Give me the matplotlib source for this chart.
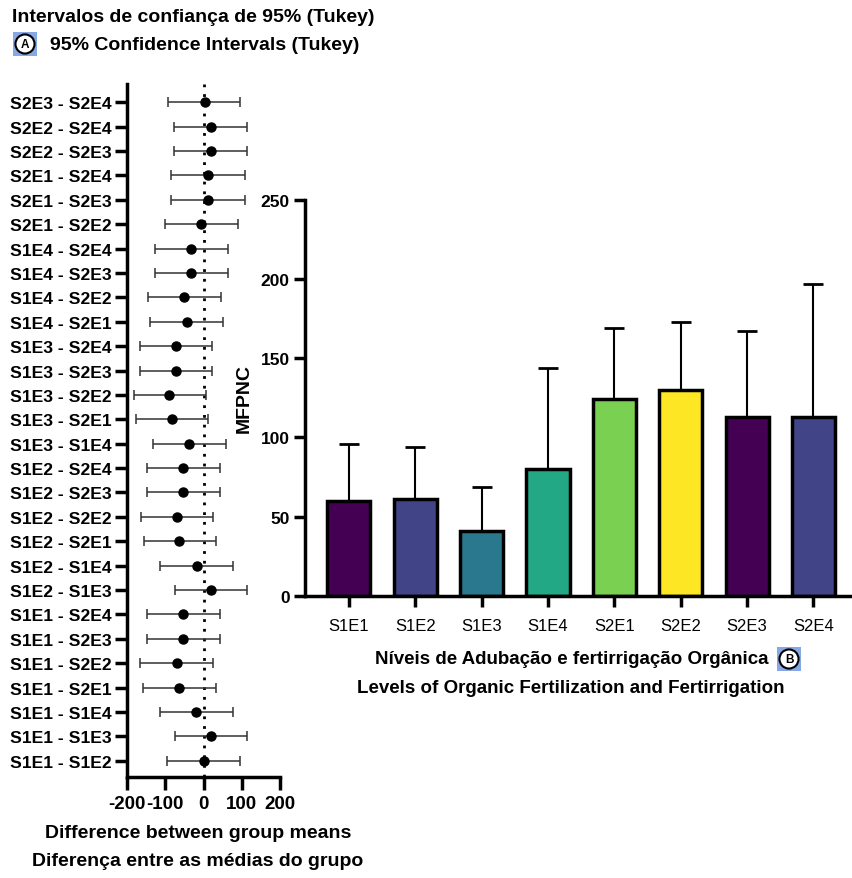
import matplotlib
matplotlib.use("Agg")
import matplotlib.pyplot as plt
from matplotlib.patches import Rectangle

plt.rcParams['font.family'] = ['Liberation Sans', 'DejaVu Sans']

# Tukey comparisons (bottom to top)
comparisons = ["S1E1 - S1E2", "S1E1 - S1E3", "S1E1 - S1E4", "S1E1 - S2E1",
               "S1E1 - S2E2", "S1E1 - S2E3", "S1E1 - S2E4", "S1E2 - S1E3",
               "S1E2 - S1E4", "S1E2 - S2E1", "S1E2 - S2E2", "S1E2 - S2E3",
               "S1E2 - S2E4", "S1E3 - S1E4", "S1E3 - S2E1", "S1E3 - S2E2",
               "S1E3 - S2E3", "S1E3 - S2E4", "S1E4 - S2E1", "S1E4 - S2E2",
               "S1E4 - S2E3", "S1E4 - S2E4", "S2E1 - S2E2", "S2E1 - S2E3",
               "S2E1 - S2E4", "S2E2 - S2E3", "S2E2 - S2E4", "S2E3 - S2E4"]
diff = [0, 19, -19, -64, -70, -53, -53, 20,
        -18, -63, -69, -53, -53, -37, -83, -89,
        -71, -71, -44, -50, -33, -32, -6, 12,
        12, 19, 19, 3]
lower = [-95, -75, -114, -159, -165, -147, -147, -75,
         -113, -156, -164, -147, -147, -133, -177, -183,
         -166, -166, -139, -146, -127, -127, -101, -84,
         -84, -78, -78, -94]
upper = [95, 115, 76, 32, 25, 42, 42, 115,
         77, 33, 26, 43, 43, 59, 13, 7,
         22, 22, 52, 46, 63, 63, 90, 108,
         108, 114, 114, 96]

# Bar chart
groups = ["S1E1", "S1E2", "S1E3", "S1E4", "S2E1", "S2E2", "S2E3", "S2E4"]
means = [60, 61, 41, 80, 124, 130, 113, 113]
sd = [36, 33, 28, 64, 45, 43, 54, 84]
colors = ["#440154", "#414487", "#2a788e", "#22a884",
          "#7ad151", "#fde725", "#440154", "#414487"]

fig = plt.figure(figsize=(8.52, 8.79), dpi=100)

# ---- panel A: confidence intervals
ax1 = fig.add_axes([127 / 852, 1 - 778 / 879, 153 / 852, 693 / 879])
ypos = list(range(len(comparisons)))
xerr = [[d - lo for d, lo in zip(diff, lower)], [hi - d for d, hi in zip(diff, upper)]]
ax1.axvline(0, color="black", ls=(0, (1, 2.5)), lw=2, zorder=1)
ax1.errorbar(diff, ypos, xerr=xerr, fmt="o", color="black", ms=6.5,
             ecolor="#333333", elinewidth=1.1, capsize=3.5, capthick=1.1, zorder=3)
ax1.set_xlim(-200, 200)
ax1.set_ylim(-0.67, len(comparisons) - 0.25)
ax1.set_xticks([-200, -100, 0, 100, 200])
ax1.set_xticklabels(["-200", "-100", "0", "100", "200"], fontsize=13.5, fontweight="bold")
ax1.set_yticks(ypos)
ax1.set_yticklabels(comparisons, fontsize=12.6, fontweight="bold")
for s in ["top", "right"]:
    ax1.spines[s].set_visible(False)
for s in ["left", "bottom"]:
    ax1.spines[s].set_linewidth(2.5)
ax1.tick_params(axis="x", length=9, width=2.5, pad=4)
ax1.tick_params(axis="y", length=9, width=2.5, pad=2)

# ---- panel B: bar chart
ax2 = fig.add_axes([305 / 852, 1 - 597 / 879, 547 / 852, 396.3 / 879])
x = list(range(len(groups)))
ax2.bar(x, means, width=0.65, color=colors, edgecolor="black", linewidth=2.5, zorder=2)
ax2.errorbar(x, means, yerr=[[0] * len(sd), sd], fmt="none", ecolor="black",
             elinewidth=1.5, capsize=7.5, capthick=2, zorder=1)
ax2.set_xlim(-0.66, 7.58)
ax2.set_ylim(0, 250)
ax2.set_yticks([0, 50, 100, 150, 200, 250])
ax2.set_yticklabels(["0", "50", "100", "150", "200", "250"], fontsize=12.5, fontweight="bold")
ax2.set_xticks(x)
ax2.set_xticklabels(groups, fontsize=12)
for s in ["top", "right"]:
    ax2.spines[s].set_visible(False)
for s in ["left", "bottom"]:
    ax2.spines[s].set_linewidth(2.5)
ax2.tick_params(axis="x", length=8, width=2.5, pad=8)
ax2.tick_params(axis="y", length=8, width=2.5, pad=3)
ax2.set_ylabel("MFPNC", fontsize=14, fontweight="bold", labelpad=6)

# ---- titles and axis captions
fig.text(12 / 852, 1 - 18 / 879, "Intervalos de confiança de 95% (Tukey)",
         fontsize=14, fontweight="bold", va="center", ha="left")
fig.text(50 / 852, 1 - 46 / 879, "95% Confidence Intervals (Tukey)",
         fontsize=14, fontweight="bold", va="center", ha="left")
fig.text(198 / 852, 1 - 834 / 879, "Difference between group means",
         fontsize=14, fontweight="bold", va="center", ha="center")
fig.text(198 / 852, 1 - 862 / 879, "Diferença entre as médias do grupo",
         fontsize=14, fontweight="bold", va="center", ha="center")
fig.text(572 / 852, 1 - 660 / 879, "Níveis de Adubação e fertirrigação Orgânica",
         fontsize=13.5, fontweight="bold", va="center", ha="center")
fig.text(571 / 852, 1 - 689 / 879, "Levels of Organic Fertilization and Fertirrigation",
         fontsize=13.5, fontweight="bold", va="center", ha="center")


def badge(cx, cy, letter):
    fig.patches.append(Rectangle((cx - 12, cy - 12), 24, 24, transform=None,
                                 facecolor="#86a9e6", edgecolor="none", zorder=1))
    fig.text(cx / 852, cy / 879, letter, fontsize=8.5, fontweight="bold",
             ha="center", va="center",
             bbox=dict(boxstyle="circle,pad=0.3", fc="white", ec="black", lw=1.5))


badge(25, 879 - 45, "A")
badge(789, 879 - 660, "B")

fig.savefig("out.png", dpi=100)
